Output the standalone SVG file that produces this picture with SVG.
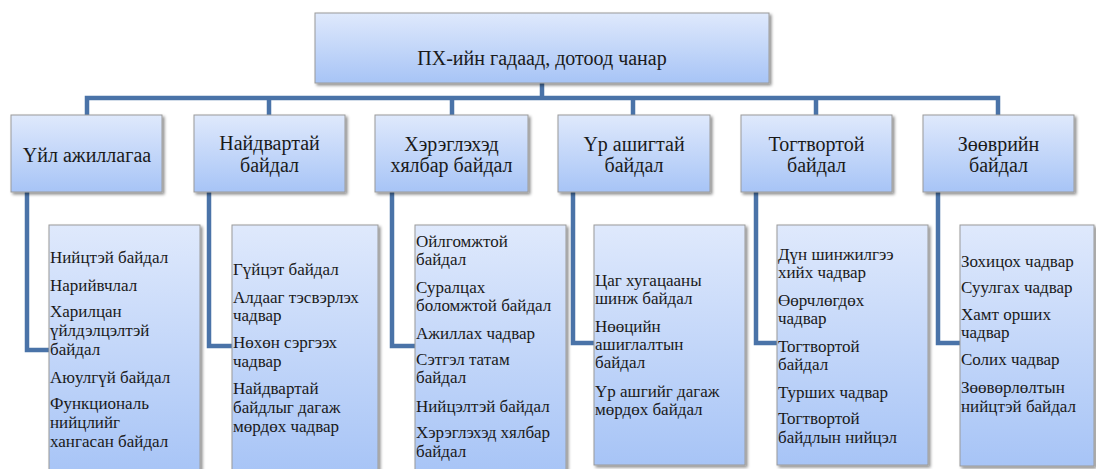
<svg xmlns="http://www.w3.org/2000/svg" width="1096" height="469" viewBox="0 0 1096 469">
<defs>
<linearGradient id="dgGrad" x1="0" y1="0" x2="0" y2="1">
<stop offset="0" stop-color="#dfe9fc"/>
<stop offset="1" stop-color="#a7c4f6"/>
</linearGradient>
<filter id="dgShadow" x="-10%" y="-10%" width="125%" height="125%">
<feDropShadow dx="2" dy="2" stdDeviation="1.5" flood-color="#000" flood-opacity="0.45"/>
</filter>
</defs>
<rect width="1096" height="469" fill="#fff"/>
<g id="connectors" fill="none" stroke="#4a73a8" stroke-width="4.5">
<path d="M542 83V98M87 115V98H998V115M269 98V115M452 98V115M633 98V115M816 98V115"/>
<path d="M27 192V350H49M209 192V346H232M392 192V346H415M573 192V343H594M756 192V343H777M938 192V343H960"/>
</g>
<g id="root" fill="url(#dgGrad)" stroke="#9a9a9a">
<rect x="315" y="13" width="454" height="70" filter="url(#dgShadow)"/>
<text fill="#1a1a1a" stroke="none" font-family="Liberation Serif" font-size="20" text-anchor="middle" x="542" y="65">ПХ-ийн гадаад, дотоод чанар</text>
</g>
<g id="n1" fill="url(#dgGrad)" stroke="#9a9a9a">
<rect x="11" y="115" width="151" height="77" filter="url(#dgShadow)"/>
<text fill="#1a1a1a" stroke="none" font-family="Liberation Serif" font-size="20" text-anchor="middle" x="87" y="162">Үйл ажиллагаа</text>
</g>
<g id="n2" fill="url(#dgGrad)" stroke="#9a9a9a">
<rect x="194" y="115" width="151" height="77" filter="url(#dgShadow)"/>
<text fill="#1a1a1a" stroke="none" font-family="Liberation Serif" font-size="20" text-anchor="middle" x="269.5" y="150">Найдвартай</text>
<text fill="#1a1a1a" stroke="none" font-family="Liberation Serif" font-size="20" text-anchor="middle" x="269.5" y="172">байдал</text>
</g>
<g id="n3" fill="url(#dgGrad)" stroke="#9a9a9a">
<rect x="375" y="115" width="153" height="77" filter="url(#dgShadow)"/>
<text fill="#1a1a1a" stroke="none" font-family="Liberation Serif" font-size="20" text-anchor="middle" x="451.5" y="151">Хэрэглэхэд</text>
<text fill="#1a1a1a" stroke="none" font-family="Liberation Serif" font-size="20" text-anchor="middle" x="451.5" y="172">хялбар байдал</text>
</g>
<g id="n4" fill="url(#dgGrad)" stroke="#9a9a9a">
<rect x="558" y="115" width="152" height="77" filter="url(#dgShadow)"/>
<text fill="#1a1a1a" stroke="none" font-family="Liberation Serif" font-size="20" text-anchor="middle" x="634" y="151">Үр ашигтай</text>
<text fill="#1a1a1a" stroke="none" font-family="Liberation Serif" font-size="20" text-anchor="middle" x="634" y="172">байдал</text>
</g>
<g id="n5" fill="url(#dgGrad)" stroke="#9a9a9a">
<rect x="741" y="115" width="151" height="77" filter="url(#dgShadow)"/>
<text fill="#1a1a1a" stroke="none" font-family="Liberation Serif" font-size="20" text-anchor="middle" x="816.5" y="151">Тогтвортой</text>
<text fill="#1a1a1a" stroke="none" font-family="Liberation Serif" font-size="20" text-anchor="middle" x="816.5" y="172">байдал</text>
</g>
<g id="n6" fill="url(#dgGrad)" stroke="#9a9a9a">
<rect x="923" y="115" width="151" height="77" filter="url(#dgShadow)"/>
<text fill="#1a1a1a" stroke="none" font-family="Liberation Serif" font-size="20" text-anchor="middle" x="998.5" y="151">Зөөврийн</text>
<text fill="#1a1a1a" stroke="none" font-family="Liberation Serif" font-size="20" text-anchor="middle" x="998.5" y="172">байдал</text>
</g>
<g id="d1" fill="url(#dgGrad)" stroke="#9a9a9a">
<rect x="49" y="225" width="151" height="250" filter="url(#dgShadow)"/>
<text fill="#1a1a1a" stroke="none" font-family="Liberation Serif" font-size="17" x="50" y="263">Нийцтэй  байдал</text>
<text fill="#1a1a1a" stroke="none" font-family="Liberation Serif" font-size="17" x="50" y="291">Нарийвчлал</text>
<text fill="#1a1a1a" stroke="none" font-family="Liberation Serif" font-size="17" x="50" y="317">Харилцан</text>
<text fill="#1a1a1a" stroke="none" font-family="Liberation Serif" font-size="17" x="50" y="336">үйлдэлцэлтэй</text>
<text fill="#1a1a1a" stroke="none" font-family="Liberation Serif" font-size="17" x="50" y="355">байдал</text>
<text fill="#1a1a1a" stroke="none" font-family="Liberation Serif" font-size="17" x="50" y="383">Аюулгүй байдал</text>
<text fill="#1a1a1a" stroke="none" font-family="Liberation Serif" font-size="17" x="50" y="409">Функциональ</text>
<text fill="#1a1a1a" stroke="none" font-family="Liberation Serif" font-size="17" x="50" y="428">нийцлийг</text>
<text fill="#1a1a1a" stroke="none" font-family="Liberation Serif" font-size="17" x="50" y="447">хангасан  байдал</text>
</g>
<g id="d2" fill="url(#dgGrad)" stroke="#9a9a9a">
<rect x="232" y="225" width="146" height="250" filter="url(#dgShadow)"/>
<text fill="#1a1a1a" stroke="none" font-family="Liberation Serif" font-size="17" x="233" y="275">Гүйцэт байдал</text>
<text fill="#1a1a1a" stroke="none" font-family="Liberation Serif" font-size="17" x="233" y="303">Алдааг  тэсвэрлэх</text>
<text fill="#1a1a1a" stroke="none" font-family="Liberation Serif" font-size="17" x="233" y="321">чадвар</text>
<text fill="#1a1a1a" stroke="none" font-family="Liberation Serif" font-size="17" x="233" y="348">Нөхөн сэргээх</text>
<text fill="#1a1a1a" stroke="none" font-family="Liberation Serif" font-size="17" x="233" y="367">чадвар</text>
<text fill="#1a1a1a" stroke="none" font-family="Liberation Serif" font-size="17" x="233" y="394">Найдвартай</text>
<text fill="#1a1a1a" stroke="none" font-family="Liberation Serif" font-size="17" x="233" y="413">байдлыг  дагаж</text>
<text fill="#1a1a1a" stroke="none" font-family="Liberation Serif" font-size="17" x="233" y="432">мөрдөх чадвар</text>
</g>
<g id="d3" fill="url(#dgGrad)" stroke="#9a9a9a">
<rect x="415" y="225" width="151" height="250" filter="url(#dgShadow)"/>
<text fill="#1a1a1a" stroke="none" font-family="Liberation Serif" font-size="17" x="416" y="247">Ойлгомжтой</text>
<text fill="#1a1a1a" stroke="none" font-family="Liberation Serif" font-size="17" x="416" y="265">байдал</text>
<text fill="#1a1a1a" stroke="none" font-family="Liberation Serif" font-size="17" x="416" y="293">Суралцах</text>
<text fill="#1a1a1a" stroke="none" font-family="Liberation Serif" font-size="17" x="416" y="311">боломжтой байдал</text>
<text fill="#1a1a1a" stroke="none" font-family="Liberation Serif" font-size="17" x="416" y="339">Ажиллах  чадвар</text>
<text fill="#1a1a1a" stroke="none" font-family="Liberation Serif" font-size="17" x="416" y="365">Сэтгэл татам</text>
<text fill="#1a1a1a" stroke="none" font-family="Liberation Serif" font-size="17" x="416" y="383">байдал</text>
<text fill="#1a1a1a" stroke="none" font-family="Liberation Serif" font-size="17" x="416" y="412">Нийцэлтэй  байдал</text>
<text fill="#1a1a1a" stroke="none" font-family="Liberation Serif" font-size="17" x="416" y="438">Хэрэглэхэд хялбар</text>
<text fill="#1a1a1a" stroke="none" font-family="Liberation Serif" font-size="17" x="416" y="457">байдал</text>
</g>
<g id="d4" fill="url(#dgGrad)" stroke="#9a9a9a">
<rect x="594" y="225" width="151" height="240" filter="url(#dgShadow)"/>
<text fill="#1a1a1a" stroke="none" font-family="Liberation Serif" font-size="17" x="595" y="286">Цаг хугацааны</text>
<text fill="#1a1a1a" stroke="none" font-family="Liberation Serif" font-size="17" x="595" y="304">шинж байдал</text>
<text fill="#1a1a1a" stroke="none" font-family="Liberation Serif" font-size="17" x="595" y="332">Нөөцийн</text>
<text fill="#1a1a1a" stroke="none" font-family="Liberation Serif" font-size="17" x="595" y="350">ашиглалтын</text>
<text fill="#1a1a1a" stroke="none" font-family="Liberation Serif" font-size="17" x="595" y="368">байдал</text>
<text fill="#1a1a1a" stroke="none" font-family="Liberation Serif" font-size="17" x="595" y="397">Үр  ашгийг дагаж</text>
<text fill="#1a1a1a" stroke="none" font-family="Liberation Serif" font-size="17" x="595" y="415">мөрдөх байдал</text>
</g>
<g id="d5" fill="url(#dgGrad)" stroke="#9a9a9a">
<rect x="777" y="225" width="151" height="240" filter="url(#dgShadow)"/>
<text fill="#1a1a1a" stroke="none" font-family="Liberation Serif" font-size="17" x="778" y="260">Дүн шинжилгээ</text>
<text fill="#1a1a1a" stroke="none" font-family="Liberation Serif" font-size="17" x="778" y="278">хийх  чадвар</text>
<text fill="#1a1a1a" stroke="none" font-family="Liberation Serif" font-size="17" x="778" y="306">Өөрчлөгдөх</text>
<text fill="#1a1a1a" stroke="none" font-family="Liberation Serif" font-size="17" x="778" y="324">чадвар</text>
<text fill="#1a1a1a" stroke="none" font-family="Liberation Serif" font-size="17" x="778" y="352">Тогтвортой</text>
<text fill="#1a1a1a" stroke="none" font-family="Liberation Serif" font-size="17" x="778" y="370">байдал</text>
<text fill="#1a1a1a" stroke="none" font-family="Liberation Serif" font-size="17" x="778" y="398">Турших  чадвар</text>
<text fill="#1a1a1a" stroke="none" font-family="Liberation Serif" font-size="17" x="778" y="424">Тогтвортой</text>
<text fill="#1a1a1a" stroke="none" font-family="Liberation Serif" font-size="17" x="778" y="443">байдлын  нийцэл</text>
</g>
<g id="d6" fill="url(#dgGrad)" stroke="#9a9a9a">
<rect x="960" y="225" width="134" height="241" filter="url(#dgShadow)"/>
<text fill="#1a1a1a" stroke="none" font-family="Liberation Serif" font-size="17" x="961" y="267">Зохицох чадвар</text>
<text fill="#1a1a1a" stroke="none" font-family="Liberation Serif" font-size="17" x="961" y="293">Суулгах  чадвар</text>
<text fill="#1a1a1a" stroke="none" font-family="Liberation Serif" font-size="17" x="961" y="320">Хамт орших</text>
<text fill="#1a1a1a" stroke="none" font-family="Liberation Serif" font-size="17" x="961" y="338">чадвар</text>
<text fill="#1a1a1a" stroke="none" font-family="Liberation Serif" font-size="17" x="961" y="365">Солих чадвар</text>
<text fill="#1a1a1a" stroke="none" font-family="Liberation Serif" font-size="17" x="961" y="393">Зөөвөрлөлтын</text>
<text fill="#1a1a1a" stroke="none" font-family="Liberation Serif" font-size="17" x="961" y="412">нийцтэй  байдал</text>
</g>
</svg>
